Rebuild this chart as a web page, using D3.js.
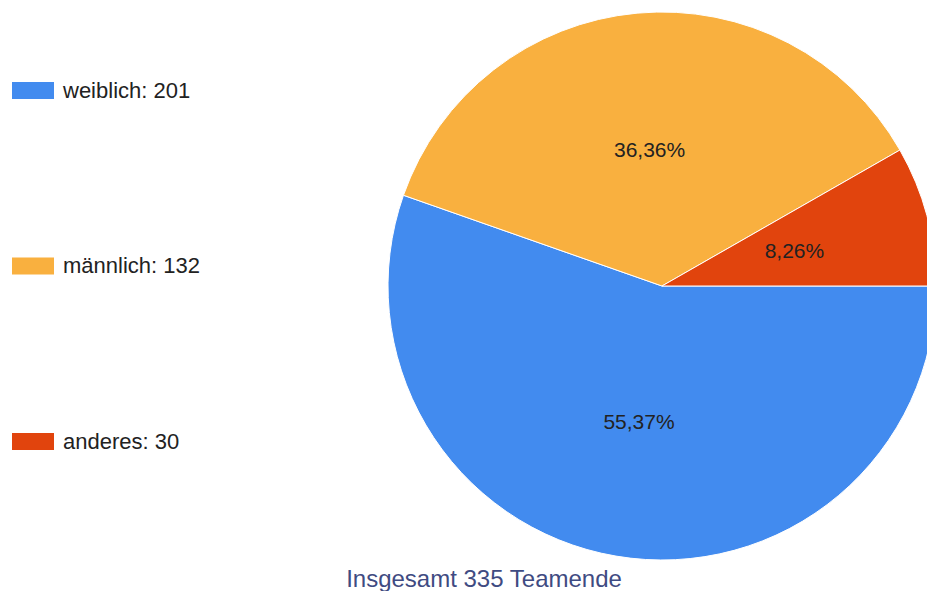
<!DOCTYPE html>
<html>
<head>
<meta charset="utf-8">
<script src="https://cdn.jsdelivr.net/npm/d3@7"></script>
<style>
  html, body { margin: 0; padding: 0; background: #fff; overflow: hidden; }
  text { font-family: Arial, "Liberation Sans", sans-serif; }
</style>
</head>
<body>
<svg id="chart" width="927" height="591"></svg>
<script>
'use strict';

// data
const categories = ['weiblich', 'männlich', 'anderes']
const counts = [201, 132, 30]
const colors = ['#428bef', '#f9b03f', '#e1440d']
const title = 'Insgesamt 335 Teamende'

let width = 927
let height = 591
let cx = 662
let cy = 286
let radius = 274

let svg = d3.select('#chart')

let total = d3.sum(counts)
let fmt = v => (v / total * 100).toFixed(2).replace('.', ',') + '%'

let pie = d3.pie()
    .sort(null)
    .startAngle(Math.PI / 2)
    .endAngle(Math.PI / 2 + Math.PI * 2)
let arcs = pie(counts)

let arc = d3.arc().innerRadius(0).outerRadius(radius)
let labelArc = d3.arc().innerRadius(radius * 0.5).outerRadius(radius * 0.5)

let g = svg.append('g')
    .attr('transform', 'translate(' + cx + ',' + cy + ')')

g.selectAll('path.slice')
    .data(arcs)
    .enter().append('path')
    .attr('class', 'slice')
    .attr('d', arc)
    .attr('fill', (d, i) => colors[i])
    .attr('stroke', '#fff')
    .attr('stroke-width', 1)

g.selectAll('text.pct')
    .data(arcs)
    .enter().append('text')
    .attr('class', 'pct')
    .attr('x', d => labelArc.centroid(d)[0])
    .attr('y', d => labelArc.centroid(d)[1])
    .attr('dy', '0.36em')
    .attr('text-anchor', 'middle')
    .attr('font-size', 21)
    .attr('fill', '#222')
    .text(d => fmt(d.value))

// legend, spread down the left side
let legendY = d3.scalePoint()
    .domain(categories)
    .range([90, 441])

let leg = svg.selectAll('g.legend')
    .data(categories)
    .enter().append('g')
    .attr('class', 'legend')
    .attr('transform', d => 'translate(12,' + legendY(d) + ')')

leg.append('rect')
    .attr('x', 0)
    .attr('y', -8)
    .attr('width', 42)
    .attr('height', 17)
    .attr('fill', (d, i) => colors[i])

leg.append('text')
    .attr('x', 51)
    .attr('y', 0)
    .attr('dy', '0.36em')
    .attr('font-size', 22)
    .attr('fill', '#222')
    .text((d, i) => d + ': ' + counts[i])

svg.append('text')
    .attr('x', 484)
    .attr('y', 587)
    .attr('text-anchor', 'middle')
    .attr('font-size', 24)
    .attr('fill', '#3f4b82')
    .text(title)
</script>
</body>
</html>
